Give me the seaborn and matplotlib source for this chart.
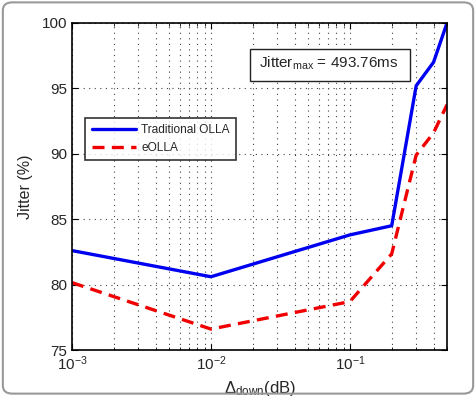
import matplotlib as mpl
mpl.use('Agg')
import matplotlib.pyplot as plt
import matplotlib.ticker as ticker
from matplotlib.patches import FancyBboxPatch, Rectangle
import pandas as pd
import seaborn as sns

# values
delta_down = [0.001, 0.01, 0.1, 0.2, 0.3, 0.4, 0.5]
jitter_trad = [82.6, 80.6, 83.8, 84.5, 95.2, 97.0, 100.0]
jitter_eolla = [80.15, 76.6, 78.7, 82.35, 89.9, 91.6, 93.75]
series_names = ['Traditional OLLA', 'eOLLA']

df = pd.concat([
    pd.DataFrame({'delta': delta_down, 'jitter': jitter_trad, 'scheme': series_names[0]}),
    pd.DataFrame({'delta': delta_down, 'jitter': jitter_eolla, 'scheme': series_names[1]}),
])

sns.set_style("ticks")
plt.rcParams['font.family'] = ['Liberation Sans', 'DejaVu Sans']
plt.rcParams['mathtext.default'] = 'regular'
plt.rcParams['xtick.direction'] = 'in'
plt.rcParams['ytick.direction'] = 'in'

fig = plt.figure(figsize=(4.76, 3.96), dpi=100)
ax = fig.add_axes([72/476, 1-350/396, (447-72)/476, (350-23)/396])

sns.lineplot(data=df, x='delta', y='jitter', hue='scheme', style='scheme',
             palette={series_names[0]: '#0000f0', series_names[1]: '#f00000'},
             dashes={series_names[0]: '', series_names[1]: (3.6, 2.2)},
             linewidth=2.4, ax=ax, sort=False)

ax.set_xscale('log')
ax.set_xlim(1e-3, 0.5)
ax.set_ylim(75, 100)
ax.set_yticks([75, 80, 85, 90, 95, 100])
ax.xaxis.set_major_locator(ticker.LogLocator(base=10, numticks=10))
ax.xaxis.set_minor_locator(ticker.LogLocator(base=10, subs=range(2, 10), numticks=10))
ax.xaxis.set_minor_formatter(ticker.NullFormatter())
ax.tick_params(which='both', top=True, right=True, labelsize=11, color='black')
ax.tick_params(which='major', length=4)
ax.tick_params(which='minor', length=2)
ax.grid(which='major', axis='both', linestyle=(0, (1, 4)), color='#444444', linewidth=0.8)
ax.grid(which='minor', axis='x', linestyle=(0, (1, 4)), color='#444444', linewidth=0.8)
for s in ax.spines.values():
    s.set_linewidth(1.2)
    s.set_color('black')

ax.set_xlabel(r'$\Delta_{down}$(dB)', fontsize=12, labelpad=4)
ax.set_ylabel('Jitter (%)', fontsize=11.5, labelpad=6)

leg = ax.legend(loc='upper left', bbox_to_anchor=(0.035, 0.71), fontsize=8.6,
                frameon=True, fancybox=False, edgecolor='black',
                handlelength=3.7, handletextpad=0.45, borderpad=0.55,
                labelspacing=0.45, borderaxespad=0)
leg.get_frame().set_linewidth(1.2)
leg.set_title(None)

# annotation box
ax.add_patch(Rectangle((0.475, 0.823), 0.426, 0.097, transform=ax.transAxes,
                       facecolor='white', edgecolor='#222222', linewidth=1.0, zorder=5))
ax.text(0.499, 0.865, r'Jitter$_{max}$ = 493.76ms', transform=ax.transAxes,
        ha='left', va='baseline', fontsize=11, zorder=6)

fig.patches.append(FancyBboxPatch((0.006, 0.006), 0.988, 0.988, boxstyle='round,pad=0,rounding_size=0.02',
                                  transform=fig.transFigure, facecolor='none', edgecolor='#999999',
                                  linewidth=1.5))

fig.savefig('out.png', dpi=100)
